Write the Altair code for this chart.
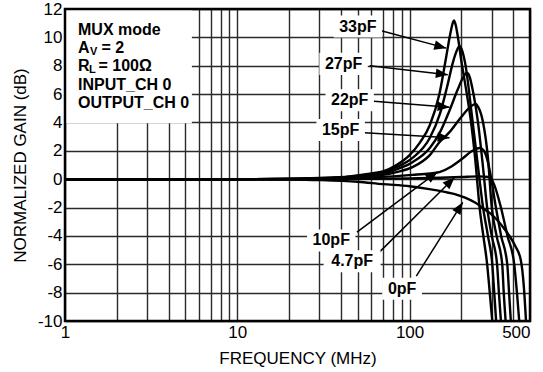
import math
import altair as alt
import pandas as pd

# ---------------- data ----------------
caps = ["33pF", "27pF", "22pF", "15pF", "10pF", "4.7pF", "0pF"]

freq_33 = [1, 10, 20, 30, 45, 60, 70, 84, 100, 115, 131, 149, 163, 172, 178, 181, 185, 192, 200, 215, 227, 240, 255, 268, 282, 292, 302]
gain_33 = [0, 0, 0.02, 0.08, 0.2, 0.4, 0.55, 1.0, 1.7, 2.6, 3.8, 6.0, 8.6, 10.2, 11.0, 11.2, 10.9, 9.8, 8.3, 6.0, 4.1, 1.5, -2.0, -4.0, -6.0, -8.0, -10.0]

freq_27 = [1, 10, 20, 30, 45, 60, 70, 84, 104, 131, 150, 165, 180, 190, 195, 200, 210, 232, 250, 267, 285, 302, 310, 318]
gain_27 = [0, 0, 0.02, 0.07, 0.18, 0.35, 0.5, 0.85, 1.5, 2.9, 4.6, 6.5, 8.4, 9.2, 9.4, 9.2, 8.2, 4.1, 0.8, -2.0, -4.0, -6.0, -8.0, -10.0]

freq_22 = [1, 10, 20, 30, 45, 60, 70, 84, 104, 131, 150, 170, 190, 205, 215, 222, 235, 249, 265, 282, 300, 322, 330, 339]
gain_22 = [0, 0, 0.02, 0.06, 0.15, 0.3, 0.4, 0.7, 1.2, 2.2, 3.3, 4.8, 6.3, 7.2, 7.5, 7.3, 6.0, 4.1, 1.2, -2.0, -4.0, -6.0, -8.0, -10.0]

freq_15 = [1, 10, 20, 30, 45, 60, 70, 84, 104, 131, 149, 170, 200, 225, 241, 250, 266, 285, 300, 320, 345, 352, 361]
gain_15 = [0, 0, 0.01, 0.05, 0.12, 0.22, 0.3, 0.5, 0.85, 1.7, 2.6, 3.3, 4.4, 5.1, 5.3, 5.1, 4.1, 1.5, -2.0, -4.0, -6.0, -8.0, -10.0]

freq_10 = [1, 10, 20, 30, 45, 60, 80, 104, 131, 149, 175, 200, 232, 255, 270, 285, 300, 317, 340, 369, 378, 387]
gain_10 = [0, 0, 0.01, 0.03, 0.07, 0.12, 0.2, 0.3, 0.4, 0.5, 0.9, 1.4, 2.0, 2.2, 2.0, 1.2, -0.2, -2.0, -4.0, -6.0, -8.0, -10.0]

freq_4p7 = [1, 10, 30, 60, 100, 150, 200, 250, 290, 310, 339, 370, 405, 420, 433]
gain_4p7 = [0, 0, 0, 0.03, 0.06, 0.1, 0.15, 0.2, 0.15, -0.4, -2.0, -4.0, -6.0, -8.0, -10.0]

freq_0 = [1, 10, 20, 30, 50, 70, 100, 130, 160, 183, 210, 240, 270, 300, 323, 350, 380, 410, 442, 460, 474]
gain_0 = [0, 0, -0.02, -0.06, -0.18, -0.35, -0.5, -0.7, -0.9, -1.05, -1.3, -1.65, -2.1, -2.5, -2.9, -3.4, -4.0, -4.7, -5.7, -7.5, -10.0]

series = {
    "33pF": (freq_33, gain_33),
    "27pF": (freq_27, gain_27),
    "22pF": (freq_22, gain_22),
    "15pF": (freq_15, gain_15),
    "10pF": (freq_10, gain_10),
    "4.7pF": (freq_4p7, gain_4p7),
    "0pF": (freq_0, gain_0),
}

# annotation anchors (data units)
label_f = [50.1, 41.4, 44.9, 39.8, 35.1, 46.4, 90.5]
label_v = [10.76, 8.13, 5.57, 3.46, -4.32, -5.79, -7.72]
arrow_f0 = [68.5, 58.7, 62.1, 54.8, 49.5, 65.5, 109.4]
arrow_v0 = [10.46, 8.0, 5.5, 3.27, -3.74, -5.25, -6.84]
tip_f = [163.3, 166.7, 170.6, 170.6, 145.3, 182.4, 203.6]
tip_v = [9.24, 7.37, 5.08, 2.92, 0.52, 0.12, -1.63]

x_grid = [1, 2, 3, 4, 5, 6, 7, 8, 9, 10, 20, 30, 40, 50, 60, 70, 80, 90, 100, 200, 300, 400, 500]
x_labels = [1, 10, 100, 500]
y_ticks = [-10, -8, -6, -4, -2, 0, 2, 4, 6, 8, 10, 12]

# ---------------- layout ----------------
W, H = 465, 312
XMIN, XMAX, YMIN, YMAX = 1, 500, -10, 12
FONT = "Liberation Sans"


def px(f):
    return W * (math.log10(f) - math.log10(XMIN)) / (math.log10(XMAX) - math.log10(XMIN))


def py(v):
    return H * (YMAX - v) / (YMAX - YMIN)


rows = []
for cap in caps:
    fs, gs = series[cap]
    for i, (f, g) in enumerate(zip(fs, gs)):
        rows.append({"cap": cap, "f": f, "g": g, "i": i})
curves = pd.DataFrame(rows)

ann_rows = []
for k, cap in enumerate(caps):
    ang = math.degrees(math.atan2(py(tip_v[k]) - py(arrow_v0[k]), px(tip_f[k]) - px(arrow_f0[k]))) % 360
    wbox = len(cap) * 8.6 + 14
    r = 11.0 / (wbox / 2)
    ann_rows.append({
        "cap": cap, "lf": label_f[k], "lv": label_v[k],
        "f0": arrow_f0[k], "v0": arrow_v0[k], "tf": tip_f[k], "tv": tip_v[k],
        "ang": ang, "bsize": wbox * wbox,
        "bshape": f"M-1,-{r:.3f}H1V{r:.3f}H-1Z",
    })
ann = pd.DataFrame(ann_rows)

xscale = alt.Scale(type="log", domain=[XMIN, XMAX], nice=False)
yscale = alt.Scale(domain=[YMIN, YMAX], nice=False, zero=False)

xaxis = alt.Axis(
    values=x_grid, tickCount=40, title="FREQUENCY (MHz)", grid=True, ticks=False, domain=False,
    labelExpr="indexof([1,10,100,500], datum.value) >= 0 ? format(datum.value, 'd') : ''",
    labelFlush=False, labelOverlap=False, labelPadding=3,
    labelAlign={"condition": {"test": "datum.value == 500", "value": "right"}, "value": "center"},
    titleY=42, titleBaseline="alphabetic",
)
yaxis = alt.Axis(
    values=y_ticks, tickCount=30, title="NORMALIZED GAIN (dB)", grid=True, ticks=False, domain=False,
    labelExpr="(datum.value < 0 ? '-' : '') + abs(datum.value)",
    labelOverlap=False, labelFlush=False,
    labelPadding=3, titleX=-45, titleY=H / 2, titleBaseline="middle",
)

base = alt.Chart(curves)

lines = base.mark_line(color="black", strokeWidth=2.4, interpolate="monotone", clip=True).encode(
    x=alt.X("f:Q", scale=xscale, axis=xaxis),
    y=alt.Y("g:Q", scale=yscale, axis=yaxis),
    detail="cap:N",
    order="i:Q",
)

legend_box = alt.Chart(pd.DataFrame({"x1": [1], "x2": [5.45], "y1": [3.95], "y2": [12]})).mark_rect(
    fill="white", stroke=None
).encode(x="x1:Q", x2="x2:Q", y="y1:Q", y2="y2:Q")

legend_x = 1.19
leg_lines = pd.DataFrame({
    "t": ["MUX mode", "A", "V", "= 2", "R", "L", "= 100\u03a9", "INPUT_CH 0", "OUTPUT_CH 0"],
    "f": [legend_x] * 9,
    "v": [10.55, 9.22, 9.22, 9.22, 7.95, 7.95, 7.95, 6.65, 5.36],
})
main_leg = alt.Chart(leg_lines[leg_lines.t.isin(["MUX mode", "A", "R", "INPUT_CH 0", "OUTPUT_CH 0"])]).mark_text(
    align="left", baseline="middle", font=FONT, fontSize=16, fontWeight="bold", color="black"
).encode(x="f:Q", y="v:Q", text="t:N")
sub_v = alt.Chart(leg_lines[leg_lines.t == "V"]).mark_text(
    align="left", baseline="middle", font=FONT, fontSize=11, fontWeight="bold", color="black", dx=12, dy=4
).encode(x="f:Q", y="v:Q", text="t:N")
sub_l = alt.Chart(leg_lines[leg_lines.t == "L"]).mark_text(
    align="left", baseline="middle", font=FONT, fontSize=11, fontWeight="bold", color="black", dx=11, dy=4
).encode(x="f:Q", y="v:Q", text="t:N")
eq2 = alt.Chart(leg_lines[leg_lines.t == "= 2"]).mark_text(
    align="left", baseline="middle", font=FONT, fontSize=16, fontWeight="bold", color="black", dx=23.5
).encode(x="f:Q", y="v:Q", text="t:N")
eq100 = alt.Chart(leg_lines[leg_lines.t == "= 100\u03a9"]).mark_text(
    align="left", baseline="middle", font=FONT, fontSize=16, fontWeight="bold", color="black", dx=20.5
).encode(x="f:Q", y="v:Q", text="t:N")

ab = alt.Chart(ann)
arrow_lines = ab.mark_rule(color="black", strokeWidth=1.5).encode(
    x="f0:Q", y="v0:Q", x2="tf:Q", y2="tv:Q"
)
arrow_heads = ab.mark_point(filled=True, fill="black", stroke=None, opacity=1,
                            shape="M0,0L-2,-0.8L-2,0.8Z", size=144).encode(
    x="tf:Q", y="tv:Q", angle=alt.Angle("ang:Q", scale=None)
)
boxes = ab.mark_point(filled=True, fill="white", stroke=None, opacity=1).encode(
    x="lf:Q", y="lv:Q",
    size=alt.Size("bsize:Q", scale=None),
    shape=alt.Shape("bshape:N", scale=None),
)
labels = ab.mark_text(font=FONT, fontSize=16, fontWeight="bold", color="black",
                      align="center", baseline="middle").encode(
    x="lf:Q", y="lv:Q", text="cap:N"
)

frame = alt.Chart(pd.DataFrame({"x1": [XMIN], "x2": [XMAX], "y1": [YMIN], "y2": [YMAX]})).mark_rect(
    fill=None, fillOpacity=0, stroke="black", strokeWidth=2.5
).encode(x="x1:Q", x2="x2:Q", y="y1:Q", y2="y2:Q")

chart = alt.layer(
    lines, legend_box, main_leg, sub_v, sub_l, eq2, eq100,
    arrow_lines, arrow_heads, boxes, labels, frame
).properties(
    width=W, height=H,
    autosize=alt.AutoSizeParams(type="none"),
    padding={"left": 65, "top": 9, "right": 13, "bottom": 51},
    background="white",
).configure_view(stroke=None).configure_axis(
    gridColor="#2a2a2a", gridWidth=1.4, gridOpacity=1,
    labelFont=FONT, labelFontSize=17, labelColor="black",
    titleFont=FONT, titleFontSize=17, titleFontWeight="normal", titleColor="black",
)

chart.save("out.html", embed_options={"renderer": "svg", "actions": False})
